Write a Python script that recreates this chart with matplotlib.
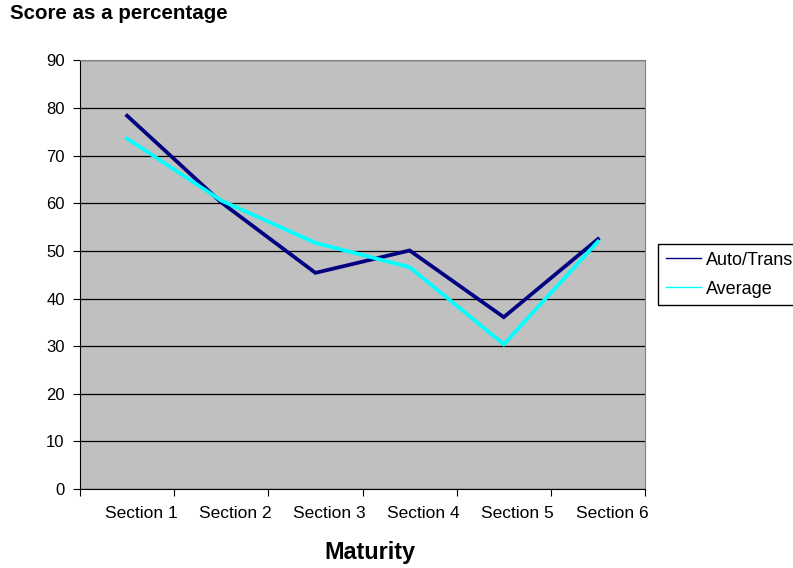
import matplotlib.pyplot as plt
from matplotlib.lines import Line2D
from matplotlib.transforms import ScaledTranslation

plt.rcParams['font.family'] = ['Liberation Sans', 'DejaVu Sans']

sections = ["Section 1", "Section 2", "Section 3", "Section 4", "Section 5", "Section 6"]
auto_trans = [78.4, 60.2, 45.4, 50.1, 36.1, 52.5]
average = [73.6, 60.6, 51.7, 46.6, 30.4, 52.0]

dark = "#000080"
cyan = "#00FFFF"

fig = plt.figure(figsize=(7.93, 5.68), dpi=100)
ax = fig.add_axes([0.1009, 0.139, 0.7125, 0.7545])
ax.set_facecolor("#C0C0C0")

x = list(range(1, len(sections) + 1))
ax.plot(x, auto_trans, color=dark, lw=2.7, solid_joinstyle="miter", zorder=3)
ax.plot(x, average, color=cyan, lw=2.7, solid_joinstyle="miter", zorder=3)

ax.set_ylim(0, 90)
ax.set_yticks(range(0, 91, 10))
ax.yaxis.grid(True, color="black", lw=0.9)
ax.set_axisbelow(True)

# category labels sit between the tick marks
ax.set_xlim(0.5, len(sections) + 0.5)
ax.set_xticks([i + 0.5 for i in range(0, len(sections) + 1)])
ax.set_xticklabels([])
ax.set_xticks(x, minor=True)
ax.set_xticklabels(sections, minor=True)
ax.tick_params(axis="x", which="minor", length=0, pad=12, labelsize=12.5)
ax.tick_params(axis="x", which="major", length=5, color="black")
ax.tick_params(axis="y", length=5, pad=6, labelsize=12, color="black")

shift = ScaledTranslation(0.14, 0, fig.dpi_scale_trans)
for lbl in ax.get_xticklabels(minor=True):
    lbl.set_transform(lbl.get_transform() + shift)

for side in ("top", "right"):
    ax.spines[side].set_color("#808080")
ax.spines["left"].set_color("black")
ax.spines["bottom"].set_color("black")

fig.text(10 / 793, 1 - 19 / 568, "Score as a percentage", fontsize=14.8,
         fontweight="bold", va="baseline", ha="left")
fig.text(370 / 793, 1 - 559 / 568, "Maturity", fontsize=16.8,
         fontweight="bold", ha="center", va="baseline")

handles = [Line2D([], [], color=dark, lw=1), Line2D([], [], color=cyan, lw=1)]
fig.legend(handles, ["Auto/Trans", "Average"], loc="upper left",
           bbox_to_anchor=(658 / 793, 1 - 244 / 568), fontsize=13,
           frameon=True, fancybox=False, edgecolor="black", framealpha=1,
           handlelength=1.95, handletextpad=0.28, borderpad=0.42,
           labelspacing=0.67, borderaxespad=0)

fig.savefig("out.png", dpi=100)
